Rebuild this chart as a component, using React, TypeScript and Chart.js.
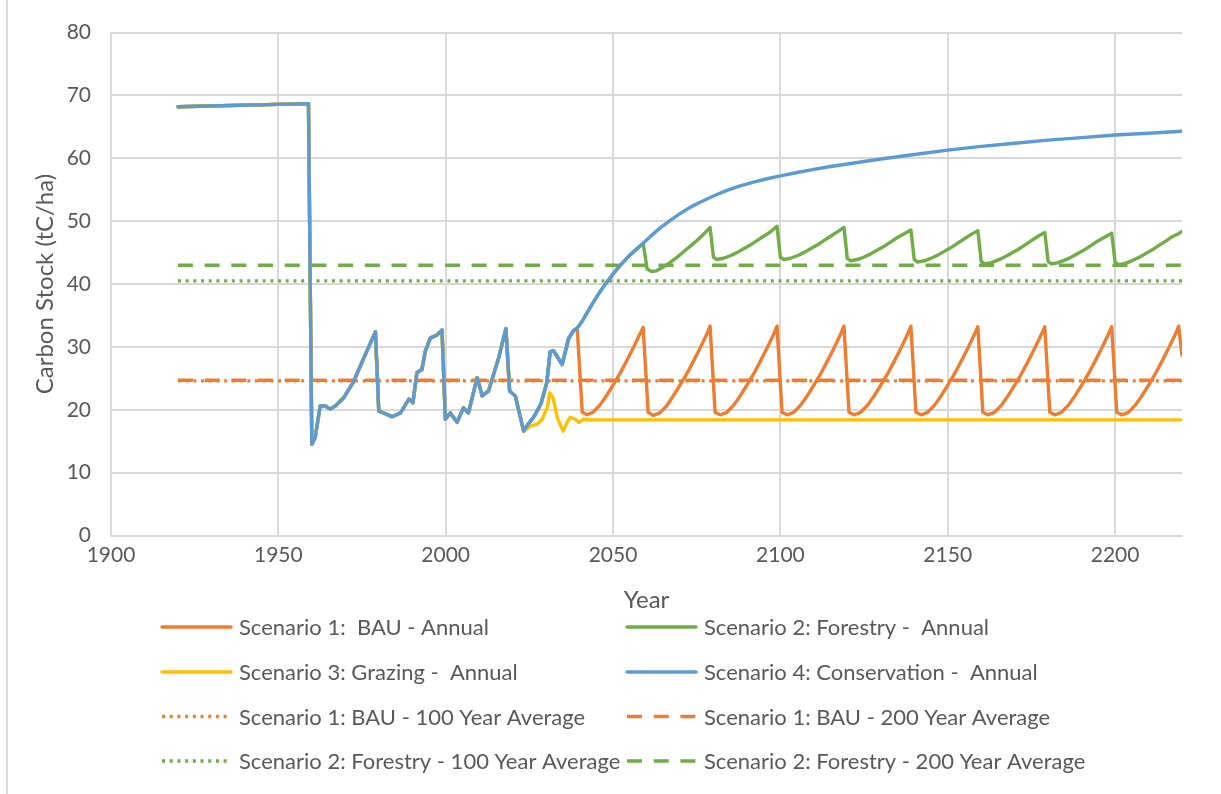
import React, { useEffect, useRef } from "react";
import { Chart, registerables } from "chart.js";

Chart.register(...registerables);

// ---------- tick labels ----------
const xTickLabels = [1900, 1950, 2000, 2050, 2100, 2150, 2200];
const yTickLabels = [0, 10, 20, 30, 40, 50, 60, 70, 80];

// ---------- shared history (all four scenarios identical) ----------
const sharedYears = [1920, 1959, 1960, 1961, 1962.5, 1964, 1965.5, 1967, 1969.5, 1972.5, 1975.5, 1979, 1980, 1984, 1986.5, 1989, 1990.2, 1991.4, 1992.9, 1993.9, 1995.4, 1997.4, 1998.9, 1999.9, 2001.4, 2003.4, 2005.3, 2006.8, 2009.4, 2010.9, 2012.8, 2015.8, 2018, 2019.1, 2020.8, 2023.3];
const sharedStock = [68.2, 68.7, 14.5, 15.6, 20.6, 20.6, 20.1, 20.6, 21.9, 24.5, 28.2, 32.4, 19.8, 18.9, 19.5, 21.7, 21.1, 25.9, 26.4, 29.3, 31.4, 31.9, 32.7, 18.5, 19.5, 18.0, 20.3, 19.5, 25.1, 22.2, 23.0, 28.2, 32.9, 23.0, 22.2, 16.6];

// ---------- Scenario 4: Conservation (after 2023) ----------
const conservationYears = [2024.5, 2026.5, 2028.5, 2030.2, 2031.2, 2032.2, 2034.8, 2036.7, 2038.2, 2039.3, 2040.7, 2042, 2044, 2046, 2048, 2050, 2052, 2055, 2059, 2061, 2064, 2067, 2070, 2073, 2076, 2080, 2084, 2088, 2092, 2096, 2100, 2105, 2110, 2115, 2120, 2130, 2140, 2150, 2160, 2170, 2180, 2190, 2200, 2210, 2220];
const conservationStock = [17.6, 19.0, 21.0, 24.3, 29.2, 29.4, 27.2, 31.3, 32.6, 33.0, 34.0, 35.2, 37.0, 38.7, 40.2, 41.6, 42.9, 44.6, 46.5, 47.5, 48.9, 50.1, 51.2, 52.2, 53.0, 54.0, 54.9, 55.6, 56.2, 56.75, 57.2, 57.75, 58.25, 58.7, 59.1, 59.9, 60.6, 61.3, 61.9, 62.4, 62.9, 63.3, 63.7, 64.0, 64.3];

// ---------- Scenario 1: BAU (after it leaves the conservation path in 2039) ----------
const bauSplitYear = 2039.3;
const bauYears = [
  2040.8, 2042.3, 2044, 2046, 2048, 2050, 2052, 2054, 2056, 2058, 2059,
  2060.5, 2062, 2064, 2066, 2068, 2070, 2072, 2074, 2076, 2078, 2079,
  2080.5, 2082, 2084, 2086, 2088, 2090, 2092, 2094, 2096, 2098, 2099,
  2100.5, 2102, 2104, 2106, 2108, 2110, 2112, 2114, 2116, 2118, 2119,
  2120.5, 2122, 2124, 2126, 2128, 2130, 2132, 2134, 2136, 2138, 2139,
  2140.5, 2142, 2144, 2146, 2148, 2150, 2152, 2154, 2156, 2158, 2159,
  2160.5, 2162, 2164, 2166, 2168, 2170, 2172, 2174, 2176, 2178, 2179,
  2180.5, 2182, 2184, 2186, 2188, 2190, 2192, 2194, 2196, 2198, 2199,
  2200.5, 2202, 2204, 2206, 2208, 2210, 2212, 2214, 2216, 2218, 2219,
  2220,
];
const bauStock = [
  19.6, 19.2, 19.6, 20.7, 22.2, 23.9, 25.7, 27.7, 29.8, 32.0, 33.1,
  19.6, 19.1, 19.5, 20.6, 22.2, 23.9, 25.7, 27.7, 29.8, 32.0, 33.3,
  19.6, 19.2, 19.6, 20.7, 22.2, 23.9, 25.7, 27.7, 29.8, 32.0, 33.3,
  19.6, 19.2, 19.6, 20.7, 22.2, 23.9, 25.7, 27.7, 29.8, 32.0, 33.3,
  19.6, 19.2, 19.6, 20.7, 22.2, 23.9, 25.7, 27.7, 29.8, 32.0, 33.3,
  19.6, 19.2, 19.6, 20.7, 22.2, 23.9, 25.7, 27.7, 29.8, 32.0, 33.2,
  19.6, 19.2, 19.6, 20.7, 22.2, 23.9, 25.7, 27.7, 29.8, 32.0, 33.2,
  19.6, 19.2, 19.6, 20.7, 22.2, 23.9, 25.7, 27.7, 29.8, 32.0, 33.2,
  19.6, 19.2, 19.6, 20.7, 22.2, 23.9, 25.7, 27.7, 29.8, 32.0, 33.3,
  28.7,
];

// ---------- Scenario 2: Forestry (after it leaves the conservation path in 2059) ----------
const forestrySplitYear = 2059;
const forestryYears = [
  2060.2, 2061.5, 2063, 2065, 2067, 2069, 2071, 2073, 2075, 2077, 2079,
  2080, 2081, 2083, 2085, 2087, 2089, 2091, 2093, 2095, 2097, 2099,
  2100, 2101, 2103, 2105, 2107, 2109, 2111, 2113, 2115, 2117, 2119,
  2120, 2121, 2123, 2125, 2127, 2129, 2131, 2133, 2135, 2137, 2139,
  2140, 2141, 2143, 2145, 2147, 2149, 2151, 2153, 2155, 2157, 2159,
  2160, 2161, 2163, 2165, 2167, 2169, 2171, 2173, 2175, 2177, 2179,
  2180, 2181, 2183, 2185, 2187, 2189, 2191, 2193, 2195, 2197, 2199,
  2200, 2201, 2203, 2205, 2207, 2209, 2211, 2213, 2215, 2217, 2219, 2220,
];
const forestryStock = [
  42.4, 42.0, 42.1, 42.7, 43.4, 44.2, 45.1, 46.0, 46.9, 47.9, 49.0,
  44.3, 43.9, 44.1, 44.5, 45.0, 45.6, 46.2, 46.9, 47.6, 48.3, 49.2,
  44.3, 43.9, 44.1, 44.5, 45.0, 45.6, 46.2, 46.9, 47.6, 48.3, 49.0,
  44.1, 43.7, 43.9, 44.3, 44.8, 45.4, 46.0, 46.7, 47.4, 48.0, 48.6,
  43.9, 43.5, 43.7, 44.1, 44.6, 45.2, 45.8, 46.5, 47.2, 47.9, 48.5,
  43.6, 43.2, 43.4, 43.8, 44.3, 44.9, 45.5, 46.2, 46.9, 47.6, 48.2,
  43.6, 43.2, 43.4, 43.8, 44.3, 44.9, 45.5, 46.2, 46.9, 47.5, 48.1,
  43.5, 43.1, 43.3, 43.7, 44.2, 44.8, 45.4, 46.1, 46.8, 47.5, 48.0, 48.4,
];

// ---------- Scenario 3: Grazing (after 2023) ----------
const grazingYears = [2025.3, 2027.3, 2028.8, 2030.3, 2031.1, 2032.1, 2033.3, 2035.1, 2036.3, 2037.2, 2038.7, 2039.7, 2041.2, 2042.7, 2220];
const grazingStock = [17.4, 17.7, 18.5, 20.3, 22.7, 21.9, 18.8, 16.6, 18.0, 18.8, 18.5, 18.0, 18.5, 18.4, 18.4];

// ---------- averages ----------
const averageYears = [1920, 2220];
const bau100YearAverage = 24.6;
const bau200YearAverage = 24.7;
const forestry100YearAverage = 40.5;
const forestry200YearAverage = 43.0;

// ---------- labels ----------
const seriesLabels = [
  "Scenario 1:  BAU - Annual",
  "Scenario 2: Forestry -  Annual",
  "Scenario 3: Grazing -  Annual",
  "Scenario 4: Conservation -  Annual",
  "Scenario 1: BAU - 100 Year Average",
  "Scenario 1: BAU - 200 Year Average",
  "Scenario 2: Forestry - 100 Year Average",
  "Scenario 2: Forestry - 200 Year Average",
];

// ---------- styles ----------
const ORANGE = "#ED7D31";
const GREEN = "#70AD47";
const YELLOW = "#FFC000";
const BLUE = "#5B9BD5";
const TEXT = "#595959";
const GRID = "#d9d9d9";
const FONT = "Lato, 'Open Sans', sans-serif";
const LINE_W = 3.4;
const DOTTED = [3, 4.7];
const DASHED = [15, 11.7];
const TICK_SIZE = 21;
const TITLE_SIZE = 24;
const LEGEND_SIZE = 22;

const W = 1221;
const H = 794;
const legendColumnX = [162, 627];
const legendRowY = [627, 672, 716.5, 761];
const legendSampleLen = 69;

const toPoints = (xs: number[], ys: number[]) => xs.map((x, i) => ({ x, y: ys[i] }));

const legendPlugin = {
  id: "gridLegend",
  beforeDraw(chart: any) {
    const ctx = chart.ctx;
    ctx.save();
    ctx.fillStyle = "#ffffff";
    ctx.fillRect(0, 0, chart.width, chart.height);
    ctx.strokeStyle = GRID;
    ctx.lineWidth = 2;
    ctx.beginPath();
    ctx.moveTo(7, 0);
    ctx.lineTo(7, chart.height);
    ctx.stroke();
    ctx.restore();
  },
  afterDraw(chart: any) {
    const ctx = chart.ctx;
    ctx.save();
    chart.data.datasets.forEach((ds: any, i: number) => {
      const col = i % 2;
      const row = Math.floor(i / 2);
      const x0 = legendColumnX[col];
      const y = legendRowY[row];
      ctx.beginPath();
      ctx.setLineDash(ds.borderDash || []);
      ctx.lineWidth = ds.borderWidth;
      ctx.strokeStyle = ds.borderColor;
      ctx.lineCap = ds.borderDash ? "butt" : "round";
      ctx.moveTo(x0, y);
      ctx.lineTo(x0 + legendSampleLen, y);
      ctx.stroke();
      ctx.setLineDash([]);
      ctx.fillStyle = TEXT;
      ctx.font = `${LEGEND_SIZE}px ${FONT}`;
      ctx.textBaseline = "middle";
      ctx.textAlign = "left";
      ctx.fillText(ds.label, x0 + legendSampleLen + 8, y + 1);
    });
    ctx.restore();
  },
};

export default function App() {
  const canvasRef = useRef<HTMLCanvasElement | null>(null);

  useEffect(() => {
    const shared = toPoints(sharedYears, sharedStock);
    const conservation = toPoints(conservationYears, conservationStock);
    const bau = [
      ...shared,
      ...conservation.filter((p) => p.x <= bauSplitYear),
      ...toPoints(bauYears, bauStock),
    ];
    const forestry = [
      ...shared,
      ...conservation.filter((p) => p.x <= forestrySplitYear),
      ...toPoints(forestryYears, forestryStock),
    ];
    const grazing = [...shared, ...toPoints(grazingYears, grazingStock)];
    const conserve = [...shared, ...conservation];
    const flat = (v: number) => averageYears.map((x) => ({ x, y: v }));

    const annual = (label: string, data: any[], color: string, order: number) => ({
      label,
      data,
      borderColor: color,
      backgroundColor: color,
      borderWidth: LINE_W,
      pointRadius: 0,
      tension: 0,
      borderJoinStyle: "round",
      borderCapStyle: "round",
      order,
    });
    const avg = (label: string, v: number, color: string, dash: number[], order: number) => ({
      label,
      data: flat(v),
      borderColor: color,
      backgroundColor: color,
      borderWidth: LINE_W,
      borderDash: dash,
      borderCapStyle: "butt",
      pointRadius: 0,
      order,
    });

    // dataset index order == legend order (2 columns, row-wise)
    const datasets = [
      annual(seriesLabels[0], bau, ORANGE, 4),
      annual(seriesLabels[1], forestry, GREEN, 3),
      annual(seriesLabels[2], grazing, YELLOW, 2),
      annual(seriesLabels[3], conserve, BLUE, 1),
      avg(seriesLabels[4], bau100YearAverage, ORANGE, DOTTED, 6),
      avg(seriesLabels[5], bau200YearAverage, ORANGE, DASHED, 5),
      avg(seriesLabels[6], forestry100YearAverage, GREEN, DOTTED, 8),
      avg(seriesLabels[7], forestry200YearAverage, GREEN, DASHED, 7),
    ];

    const chart = new Chart(canvasRef.current as HTMLCanvasElement, {
      type: "line",
      data: { datasets } as any,
      plugins: [legendPlugin],
      options: {
        animation: false,
        responsive: false,
        devicePixelRatio: 1,
        events: [],
        layout: { padding: { top: 28, right: 39, bottom: 179.6, left: 0 } },
        plugins: { legend: { display: false }, tooltip: { enabled: false } },
        scales: {
          x: {
            type: "linear",
            min: 1900,
            max: 2220,
            afterBuildTicks: (scale: any) => {
              scale.ticks = xTickLabels.map((v) => ({ value: v }));
            },
            afterFit: (scale: any) => {
              scale.height = 78.9;
            },
            grid: { color: GRID, lineWidth: 2, drawTicks: false },
            border: { display: true, color: GRID, width: 2 },
            ticks: {
              color: TEXT,
              font: { family: FONT, size: TICK_SIZE },
              padding: 7,
              maxRotation: 0,
              callback: (v: any) => String(v),
            },
            title: {
              display: true,
              text: "Year",
              color: TEXT,
              font: { family: FONT, size: TITLE_SIZE },
              padding: { top: 0, bottom: 0 },
            },
          },
          y: {
            type: "linear",
            min: 0,
            max: 80,
            afterBuildTicks: (scale: any) => {
              scale.ticks = yTickLabels.map((v) => ({ value: v }));
            },
            afterFit: (scale: any) => {
              scale.width = 111;
            },
            grid: { color: GRID, lineWidth: 2, drawTicks: false },
            border: { display: true, color: GRID, width: 2 },
            ticks: {
              color: TEXT,
              font: { family: FONT, size: TICK_SIZE },
              padding: 20,
            },
            title: {
              display: true,
              text: "Carbon Stock (tC/ha)",
              color: TEXT,
              font: { family: FONT, size: TITLE_SIZE },
              padding: { top: 30.6, bottom: 0 },
            },
          },
        },
      } as any,
    });
    return () => chart.destroy();
  }, []);

  return (
    <div style={{ position: "fixed", left: 0, top: 0, width: W, height: H, background: "#fff" }}>
      <canvas ref={canvasRef} width={W} height={H} style={{ width: W, height: H, display: "block" }} />
    </div>
  );
}
